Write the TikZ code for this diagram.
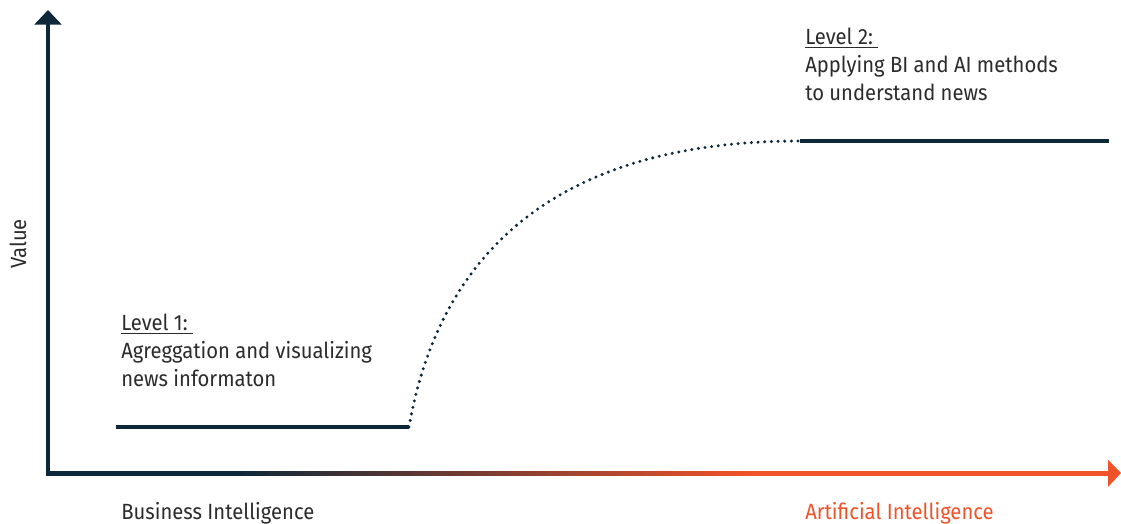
\documentclass[tikz,border=0pt]{standalone}
\usepackage{fontspec}
\setmainfont{Fira Sans}[FakeStretch=0.92]
\usepackage{tikz}
\usetikzlibrary{arrows.meta}
\definecolor{navy}{HTML}{0D2838}
\definecolor{flame}{HTML}{F0522A}
\definecolor{ink}{HTML}{2B2B2B}
\pgfdeclarehorizontalshading{axisfade}{100bp}{color(0bp)=(navy); color(34bp)=(navy); color(58bp)=(flame); color(100bp)=(flame)}
\tikzset{
	axis/.style={line width=3pt, navy},
	levelline/.style={line width=2.5pt, navy},
	rise/.style={line width=2.5pt, navy, dash pattern=on 0pt off 5pt, line cap=round},
	lbl/.style={font=\fontsize{16.5}{21}\selectfont, text=ink, inner sep=0pt, align=left},
}
\begin{document}
\begin{tikzpicture}[x=0.75pt, y=-0.75pt]
\useasboundingbox (0,0) rectangle (1121,524);
% axes
\coordinate (o) at (48,473);
\coordinate (ytop) at (48,10);
\coordinate (xend) at (1108,473);
\coordinate (xtip) at (1121,473);
\draw[axis, -{Triangle[width=20pt, length=11pt]}] (o) -- (ytop);
\shade[shading=axisfade] (46,471) rectangle (1109,475);
\fill[flame] (1108,460) -- (xtip) -- (1108,487) -- cycle;
% levels
\coordinate (l1a) at (116,427);
\coordinate (l1b) at (409,427);
\coordinate (l2a) at (800,141);
\coordinate (l2b) at (1109,141);
\draw[levelline] (l1a) -- (l1b);
\draw[levelline] (l2a) -- (l2b);
\draw[rise] (l1b) .. controls (440,250) and (560,141) .. (l2a);
% labels
\node[lbl, rotate=90] (value) at (18,244) {Value};
\node[lbl, anchor=base west] (bi) at (121,519) {Business Intelligence};
\node[lbl, anchor=base west, text=flame] (ai) at (805,519) {Artificial Intelligence};
\node[lbl, anchor=north west] (lev1) at (121,314) {\underline{Level 1:\ }\\Agreggation and visualizing\\news informaton};
\node[lbl, anchor=north west] (lev2) at (805,28) {\underline{Level 2:\ }\\Applying BI and AI methods\\to understand news};
\end{tikzpicture}
\end{document}
